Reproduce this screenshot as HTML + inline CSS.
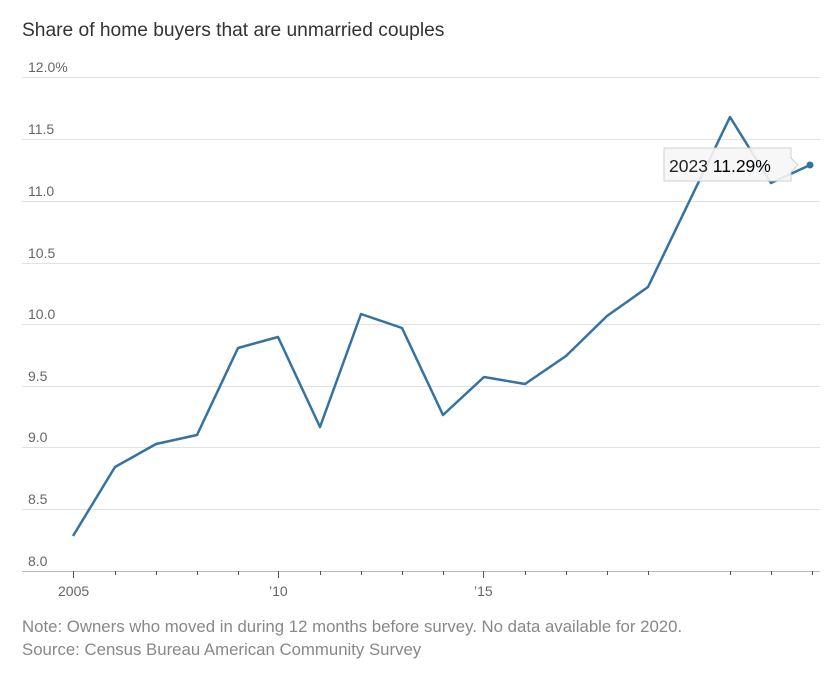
<!DOCTYPE html>
<html><head><meta charset="utf-8"><style>
body{margin:0;background:#fff;width:832px;height:668px;overflow:hidden;font-family:"Liberation Sans",sans-serif}
</style></head><body>
<svg width="832" height="668" xmlns="http://www.w3.org/2000/svg" font-family="Liberation Sans, sans-serif">
<text x="22" y="36" font-size="19.2" fill="#333">Share of home buyers that are unmarried couples</text>
<g stroke="#e2e2e2" stroke-width="1">
<line x1="22" x2="820" y1="77.5" y2="77.5"/><line x1="22" x2="820" y1="139.5" y2="139.5"/>
<line x1="22" x2="820" y1="201.5" y2="201.5"/><line x1="22" x2="820" y1="263.5" y2="263.5"/>
<line x1="22" x2="820" y1="324.5" y2="324.5"/><line x1="22" x2="820" y1="386.5" y2="386.5"/>
<line x1="22" x2="820" y1="447.5" y2="447.5"/><line x1="22" x2="820" y1="509.5" y2="509.5"/>
</g>
<line x1="22" x2="820" y1="571.5" y2="571.5" stroke="#bbb"/>
<g font-size="14" fill="#666">
<text x="28" y="72">12.0%</text><text x="28" y="134">11.5</text><text x="28" y="196">11.0</text>
<text x="28" y="258">10.5</text><text x="28" y="319">10.0</text><text x="28" y="381">9.5</text>
<text x="28" y="442">9.0</text><text x="28" y="504">8.5</text><text x="28" y="566">8.0</text>
<text x="58" y="596">2005</text><text x="269" y="596">’10</text><text x="474" y="596">’15</text>
</g>
<g stroke="#555" stroke-width="1">
<line x1="73.5" x2="73.5" y1="571" y2="578"/><line x1="278.5" x2="278.5" y1="571" y2="578"/><line x1="483.5" x2="483.5" y1="571" y2="578"/>
<line x1="115.5" x2="115.5" y1="571" y2="575"/><line x1="156.5" x2="156.5" y1="571" y2="575"/><line x1="197.5" x2="197.5" y1="571" y2="575"/><line x1="238.5" x2="238.5" y1="571" y2="575"/>
<line x1="320.5" x2="320.5" y1="571" y2="575"/><line x1="361.5" x2="361.5" y1="571" y2="575"/><line x1="402.5" x2="402.5" y1="571" y2="575"/><line x1="443.5" x2="443.5" y1="571" y2="575"/>
<line x1="525.5" x2="525.5" y1="571" y2="575"/><line x1="566.5" x2="566.5" y1="571" y2="575"/><line x1="607.5" x2="607.5" y1="571" y2="575"/><line x1="648.5" x2="648.5" y1="571" y2="575"/>
<line x1="730.5" x2="730.5" y1="571" y2="575"/><line x1="771.5" x2="771.5" y1="571" y2="575"/><line x1="812.5" x2="812.5" y1="571" y2="575"/>
</g>
<polyline fill="none" stroke="#3572a0" stroke-width="2.5" stroke-linejoin="round" points="73,536 115,467 156,444 197,435 238,348 278,337 320,427 361,314 402,328 443,415 484,377 525,384 566,356 607,316 648,287 730,117 771,183 810,165"/>
<circle cx="810" cy="165" r="3.5" fill="#3572a0"/>
<path d="M664,148 H791 V158 L798,165 L791,172 V181 H664 Z" fill="#f6f6f6" stroke="#ccc" stroke-opacity="0.9" fill-opacity="0.9"/>
<text x="669" y="172" font-size="17.5" fill="#222">2023 <tspan fill="#000">11.29%</tspan></text>
<g font-size="16.8" fill="#888">
<text x="22" y="632">Note: Owners who moved in during 12 months before survey. No data available for 2020.</text>
<text x="22" y="655">Source: Census Bureau American Community Survey</text>
</g>
</svg>
</body></html>
